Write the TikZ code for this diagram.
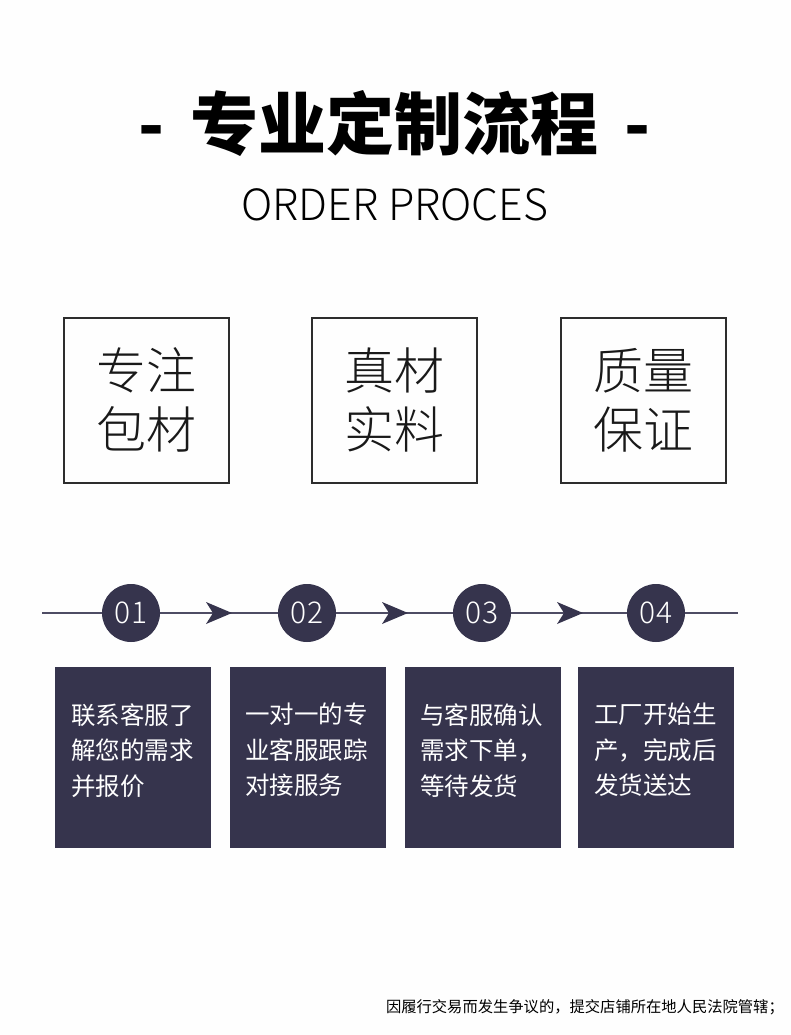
\documentclass[tikz,border=0pt]{standalone}
\usepackage{fontspec}
\setmainfont{Noto Sans CJK SC}
\newfontfamily\lightf{Noto Sans CJK SC Light}
\usetikzlibrary{arrows.meta}
\definecolor{navy}{RGB}{54,52,77}
\definecolor{linec}{RGB}{78,76,100}
\definecolor{boxline}{RGB}{45,45,45}
\tikzset{
  outbox/.style={draw=boxline,line width=2pt,minimum width=165pt,minimum height=165pt,inner sep=0pt,font=\lightf\fontsize{50}{59}\selectfont,align=center,text=black!90},
  darkbox/.style={fill=navy,minimum width=156pt,minimum height=181pt,inner sep=0pt},
  darktext/.style={anchor=north west,inner sep=0pt,align=left,text=white,font=\fontsize{24.5}{35.5}\selectfont},
  numc/.style={circle,fill=navy,minimum size=58pt,inner sep=0pt,text=white,font=\lightf\fontsize{30}{30}\selectfont},
  tl/.style={draw=linec,line width=2pt},
  tip/.style={fill=navy,draw=none}
}
\begin{document}
\begin{tikzpicture}[x=1pt,y=-1pt]
\useasboundingbox[fill=white!99!gray] (0,0) rectangle (790,1035);
\node (title) at (395,124) {\fontsize{68}{68}\selectfont\bfseries -\hspace{26pt}专业定制流程\hspace{26pt}-};
\node (sub) at (395,205) {\lightf\fontsize{43}{43}\selectfont ORDER PROCES};

\node[outbox] (b1) at (146,400) {专注\\包材};
\node[outbox] (b2) at (394.5,400) {真材\\实料};
\node[outbox] (b3) at (643.5,400) {质量\\保证};

\coordinate (ls) at (42,613);
\coordinate (le) at (738,613);
\draw[tl] (ls) -- (le);
\node[numc] (c1) at (131,613) {01};
\node[numc] (c2) at (307,613) {02};
\node[numc] (c3) at (482,613) {03};
\node[numc] (c4) at (656,613) {04};
\foreach \x/\n in {232/a1,408/a2,583/a3}{
  \coordinate (\n) at (\x,613);
  \fill[tip] (\n) -- ++(-26,-11) -- ++(7,11) -- ++(-7,11) -- cycle;
}

\node[darkbox] (d1) at (133,757.5) {};
\node[darkbox] (d2) at (307.5,757.5) {};
\node[darkbox] (d3) at (482.5,757.5) {};
\node[darkbox] (d4) at (656,757.5) {};
\node[darktext] (t1) at (71,703) {联系客服了\\解您的需求\\并报价};
\node[darktext] (t2) at (245,703) {一对一的专\\业客服跟踪\\对接服务};
\node[darktext] (t3) at (420,703) {与客服确认\\需求下单，\\等待发货};
\node[darktext] (t4) at (594,703) {工厂开始生\\产，完成后\\发货送达};

\node[anchor=east,inner sep=0pt,font=\fontsize{15.3}{15.3}\selectfont] (foot) at (784,1007) {因履行交易而发生争议的，提交店铺所在地人民法院管辖；};
\end{tikzpicture}
\end{document}
